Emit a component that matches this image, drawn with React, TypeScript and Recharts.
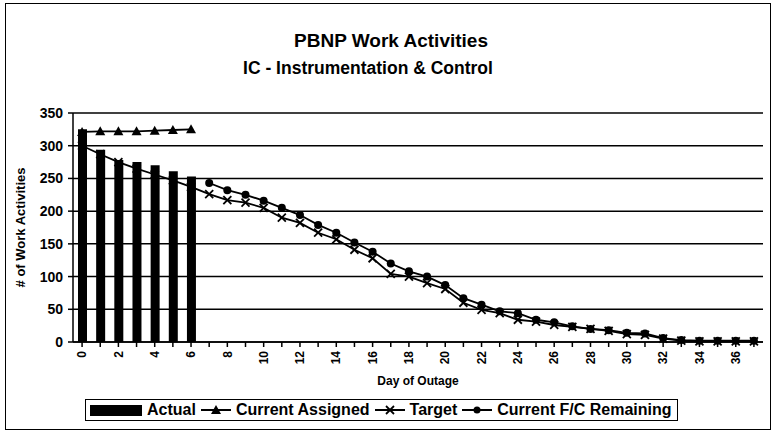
import React from "react";
import {
  Bar,
  CartesianGrid,
  ComposedChart,
  Line,
  XAxis,
  YAxis,
} from "recharts";

const days = [
  0, 1, 2, 3, 4, 5, 6, 7, 8, 9, 10, 11, 12, 13, 14, 15, 16, 17, 18, 19, 20,
  21, 22, 23, 24, 25, 26, 27, 28, 29, 30, 31, 32, 33, 34, 35, 36, 37,
];
const actual = [325, 294, 278, 275, 270, 261, 253];
const currentAssigned = [321, 322, 322, 322, 323, 324, 325];
const target = [
  300, 287, 275, 265, 256, 247, 237, 226, 217, 213, 205, 190, 182, 167, 157,
  141, 128, 104, 100, 90, 81, 60, 49, 44, 34, 31, 26, 23, 20, 17, 12, 11, 5, 2,
  1, 1, 1, 1,
];
// forecast starts on day 7
const fcRemaining = [
  243, 232, 225, 216, 205, 194, 179, 167, 152, 138, 120, 108, 100, 87, 67, 57,
  47, 44, 34, 30, 24, 20, 18, 14, 13, 6, 3, 2, 2, 2, 2,
];
const fcStart = 7;
const yTicks = [0, 50, 100, 150, 200, 250, 300, 350];

const data = days.map((d, i) => ({
  day: d,
  actual: i < actual.length ? actual[i] : null,
  assigned: i < currentAssigned.length ? currentAssigned[i] : null,
  target: target[i],
  fc: i >= fcStart ? fcRemaining[i - fcStart] : null,
}));

const FONT = '"Liberation Sans", Arial, sans-serif';

const Triangle = (props: any) => {
  const { cx, cy, index, value } = props;
  if (value == null || cx == null) return <g key={index} />;
  return (
    <polygon
      key={index}
      points={`${cx},${cy - 5} ${cx - 5},${cy + 4} ${cx + 5},${cy + 4}`}
      fill="#000"
    />
  );
};

const Cross = (props: any) => {
  const { cx, cy, index, value } = props;
  if (value == null || cx == null) return <g key={index} />;
  return (
    <g key={index} stroke="#000" strokeWidth={1.8}>
      <line x1={cx - 4} y1={cy - 4} x2={cx + 4} y2={cy + 4} />
      <line x1={cx - 4} y1={cy + 4} x2={cx + 4} y2={cy - 4} />
    </g>
  );
};

const Dot = (props: any) => {
  const { cx, cy, index, value } = props;
  if (value == null || cx == null) return <g key={index} />;
  return <circle key={index} cx={cx} cy={cy} r={4} fill="#000" />;
};

const DayTick = (props: any) => {
  const { x, y, payload } = props;
  if (payload.value % 2 !== 0) return <g />;
  return (
    <g transform={`translate(${x},${y})`}>
      <text
        transform="rotate(-90)"
        textAnchor="end"
        dy="0.35em"
        fontSize={12}
        fontWeight="bold"
        fontFamily={FONT}
        fill="#000"
      >
        {payload.value}
      </text>
    </g>
  );
};

const lineSeg = (marker: React.ReactNode) => (
  <svg width={30} height={12} style={{ verticalAlign: "middle" }}>
    <line x1={0} y1={6} x2={30} y2={6} stroke="#000" strokeWidth={2} />
    {marker}
  </svg>
);

export default function App() {
  return (
    <div
      style={{
        position: "absolute",
        left: 0,
        top: 0,
        width: 774,
        height: 438,
        background: "#fff",
        fontFamily: FONT,
      }}
    >
      <div
        style={{
          position: "absolute",
          left: 5,
          top: 3,
          width: 764,
          height: 425,
          border: "1.5px solid #000",
        }}
      />
      <div
        style={{
          position: "absolute",
          left: 191,
          width: 400,
          top: 30,
          textAlign: "center",
          fontWeight: "bold",
          fontSize: 19,
        }}
      >
        PBNP Work Activities
      </div>
      <div
        style={{
          position: "absolute",
          left: 168,
          width: 400,
          top: 58,
          textAlign: "center",
          fontWeight: "bold",
          fontSize: 17.5,
        }}
      >
        IC - Instrumentation &amp; Control
      </div>
      <ComposedChart
        width={774}
        height={438}
        data={data}
        margin={{ top: 113, right: 11, bottom: 51, left: 0 }}
      >
        <CartesianGrid
          vertical={false}
          stroke="#000"
          strokeWidth={1.5}
          strokeDasharray=""
        />
        <XAxis
          dataKey="day"
          interval={0}
          height={45}
          tick={<DayTick />}
          tickSize={5}
          tickMargin={4}
          stroke="#000"
          strokeWidth={1.5}
          tickLine={{ stroke: "#000" }}
          label={{
            value: "Day of Outage",
            position: "insideBottom",
            offset: 2,
            fontSize: 12,
            fontWeight: "bold",
            fill: "#000",
            fontFamily: FONT,
          }}
        />
        <YAxis
          width={73}
          domain={[0, 350]}
          ticks={yTicks}
          interval={0}
          tickSize={5}
          tickMargin={5}
          stroke="#000"
          strokeWidth={1.5}
          tick={{
            fontSize: 14,
            fontWeight: "bold",
            fill: "#000",
            fontFamily: FONT,
          }}
          label={{
            value: "# of Work Activities",
            angle: -90,
            position: "insideLeft",
            offset: 20,
            style: { textAnchor: "middle" },
            fontSize: 13,
            fontWeight: "bold",
            fill: "#000",
            fontFamily: FONT,
          }}
        />
        <YAxis
          yAxisId="frame"
          orientation="right"
          width={0}
          domain={[0, 350]}
          tick={false}
          tickLine={false}
          stroke="#000"
          strokeWidth={1.5}
        />
        <Bar
          dataKey="actual"
          fill="#000"
          barSize={9}
          isAnimationActive={false}
        />
        <Line
          dataKey="assigned"
          stroke="#000"
          strokeWidth={1.8}
          dot={Triangle}
          activeDot={false}
          isAnimationActive={false}
        />
        <Line
          dataKey="target"
          stroke="#000"
          strokeWidth={1.8}
          dot={Cross}
          activeDot={false}
          isAnimationActive={false}
        />
        <Line
          dataKey="fc"
          stroke="#000"
          strokeWidth={1.8}
          dot={Dot}
          activeDot={false}
          isAnimationActive={false}
        />
      </ComposedChart>
      <div
        style={{
          position: "absolute",
          left: 85,
          top: 399,
          width: 593,
          height: 22,
          border: "1.5px solid #000",
          display: "flex",
          alignItems: "center",
          gap: 5,
          fontSize: 16,
          fontWeight: "bold",
          whiteSpace: "nowrap",
          paddingLeft: 4,
          boxSizing: "border-box",
        }}
      >
        <span
          style={{
            display: "inline-block",
            width: 52,
            height: 11,
            background: "#000",
          }}
        />
        <span>Actual</span>
        {lineSeg(<polygon points="15,1 10,10 20,10" fill="#000" />)}
        <span>Current Assigned</span>
        {lineSeg(
          <g stroke="#000" strokeWidth={1.8}>
            <line x1={11} y1={2} x2={19} y2={10} />
            <line x1={11} y1={10} x2={19} y2={2} />
          </g>
        )}
        <span>Target</span>
        {lineSeg(<circle cx={15} cy={6} r={3.5} fill="#000" />)}
        <span>Current F/C Remaining</span>
      </div>
    </div>
  );
}
